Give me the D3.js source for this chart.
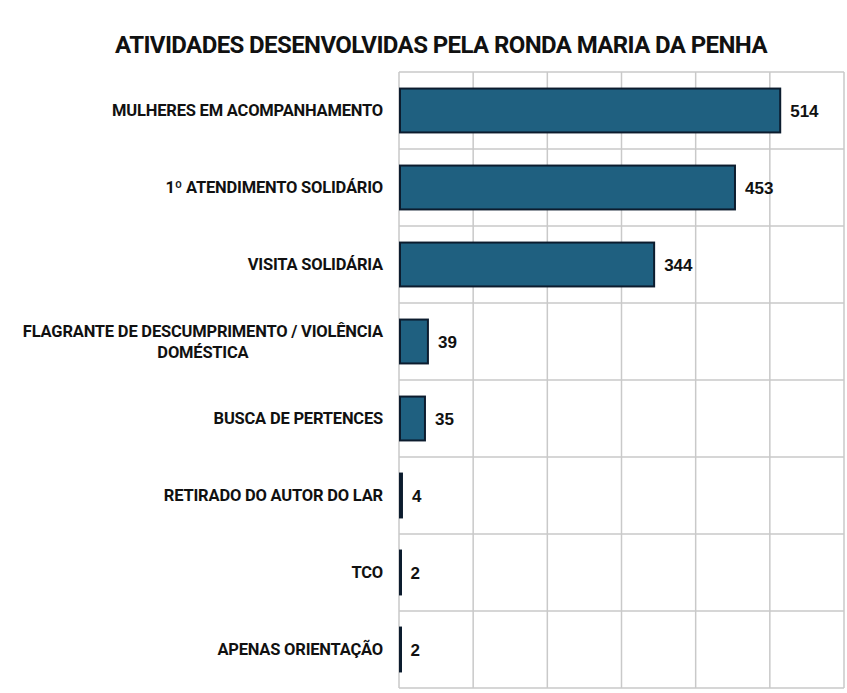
<!DOCTYPE html>
<html>
<head>
<meta charset="utf-8">
<script src="https://cdn.jsdelivr.net/npm/d3@7"></script>
<style>
  body { margin: 0; background: #fff; }
  svg { display: block; }
</style>
</head>
<body>
<svg id="chart" width="847" height="693"></svg>
<script>
// données du graphique
const categories = [
  "MULHERES EM ACOMPANHAMENTO",
  "1º ATENDIMENTO SOLIDÁRIO",
  "VISITA SOLIDÁRIA",
  "FLAGRANTE DE DESCUMPRIMENTO / VIOLÊNCIA|DOMÉSTICA",
  "BUSCA DE PERTENCES",
  "RETIRADO DO AUTOR DO LAR",
  "TCO",
  "APENAS ORIENTAÇÃO"
];
const valeurs = [514, 453, 344, 39, 35, 4, 2, 2];
const ticks = [0, 100, 200, 300, 400, 500, 600];
const titre = "ATIVIDADES DESENVOLVIDAS PELA RONDA MARIA DA PENHA";

const svg = d3.select("#chart");
const marge = {top: 72, right: 3, bottom: 5, left: 399};
const largeur = 847 - marge.left - marge.right;
const hauteur = 693 - marge.top - marge.bottom;

const x = d3.scaleLinear().domain([0, 600]).range([0, largeur]);
const y = d3.scaleBand().domain(categories).range([0, hauteur]).paddingInner(0.43).paddingOuter(0.215);
const yRow = d3.scaleBand().domain(categories).range([0, hauteur]);

// titre
svg.append("text")
  .attr("x", 441)
  .attr("y", 53)
  .attr("text-anchor", "middle")
  .style("font-family", "Roboto, sans-serif")
  .style("font-weight", "700")
  .style("font-size", "24px")
  .style("letter-spacing", "-0.6px")
  .style("fill", "#111")
  .text(titre);

const g = svg.append("g").attr("transform", `translate(${marge.left},${marge.top})`);

// grille verticale
g.append("g")
  .selectAll("line")
  .data(ticks)
  .join("line")
  .attr("x1", d => x(d)).attr("x2", d => x(d))
  .attr("y1", 0).attr("y2", hauteur)
  .attr("stroke", "#c9c9c9")
  .attr("stroke-width", 1.5);

// grille horizontale
g.append("g")
  .selectAll("line")
  .data([0, ...categories.map(c => yRow(c) + yRow.bandwidth())])
  .join("line")
  .attr("x1", 0).attr("x2", largeur)
  .attr("y1", d => d).attr("y2", d => d)
  .attr("stroke", "#c9c9c9")
  .attr("stroke-width", 1.5);

// barres
g.selectAll(".barre")
  .data(valeurs)
  .join("rect")
  .attr("class", "barre")
  .attr("x", x(0) + 1)
  .attr("y", (d, i) => y(categories[i]))
  .attr("width", d => Math.max(x(d) - 1, 1))
  .attr("height", y.bandwidth())
  .attr("fill", "#1f6080")
  .attr("stroke", "#0c1c2e")
  .attr("stroke-width", 2);

// étiquettes de valeur
g.selectAll(".valeur")
  .data(valeurs)
  .join("text")
  .attr("class", "valeur")
  .attr("x", d => x(d) + 10)
  .attr("y", (d, i) => y(categories[i]) + y.bandwidth() / 2)
  .attr("dy", "0.36em")
  .style("font-family", "'Liberation Sans', Arial, sans-serif")
  .style("font-weight", "700")
  .style("font-size", "17px")
  .style("fill", "#111")
  .text(d => d);

// libellés des catégories
const libelles = svg.append("g");
categories.forEach(c => {
  const lignes = c.split("|");
  const cy = marge.top + y(c) + y.bandwidth() / 2;
  const t = libelles.append("text")
    .style("font-family", "Roboto, sans-serif")
    .style("font-weight", "700")
    .style("font-size", "16.5px")
    .style("letter-spacing", "-0.2px")
    .style("fill", "#111");
  lignes.forEach((l, k) => {
    t.append("tspan").text(l);
  });
  // centrer les lignes multiples sous la plus large, alignée à droite
  const spans = t.selectAll("tspan").nodes();
  const w = d3.max(spans, s => s.getComputedTextLength());
  const cx = 383 - w / 2;
  const pas = 21;
  spans.forEach((s, k) => {
    d3.select(s)
      .attr("x", cx)
      .attr("y", cy + (k - (lignes.length - 1) / 2) * pas)
      .attr("dy", "0.36em")
      .attr("text-anchor", "middle");
  });
});
</script>
</body>
</html>
